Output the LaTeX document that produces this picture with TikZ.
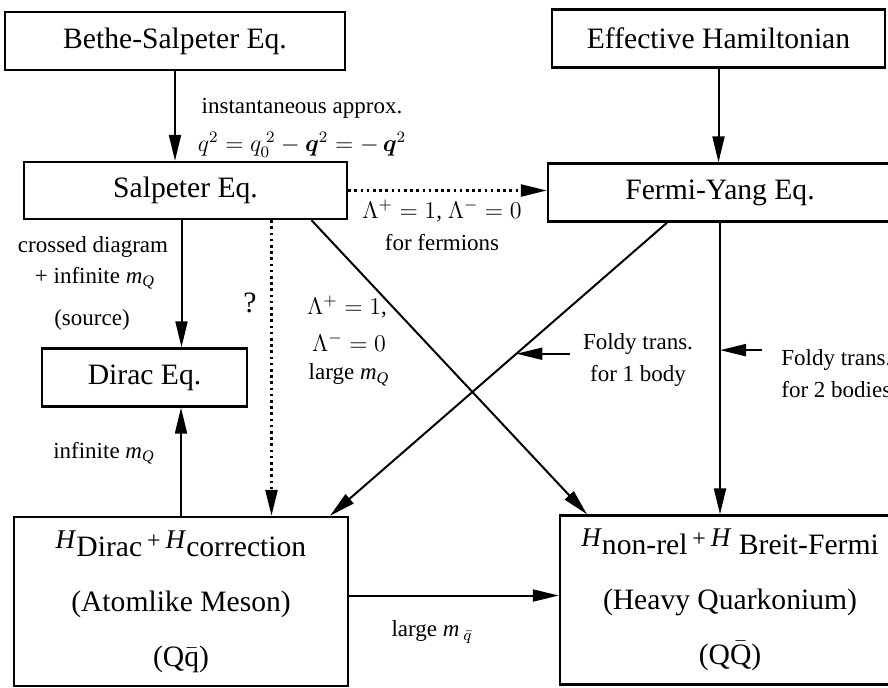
\documentclass[tikz,border=0pt]{standalone}
\usepackage{amsmath}
\usepackage{fontspec}
\setmainfont{Liberation Serif}
\usetikzlibrary{
    arrows.meta,
    positioning,
    calc
}
\newcommand{\boxfont}{\fontsize{14.8}{18}\selectfont}
\newcommand{\bigboxfont}{\fontsize{14.8}{27.5}\selectfont}
\newcommand{\lblfont}{\fontsize{11.5}{16}\selectfont}
\newcommand{\Hsub}[1]{\raisebox{0.6ex}{\fontsize{13.5}{16}\selectfont\textit{H}}#1}
\newcommand{\raiseplus}{\,\raisebox{0.6ex}{\fontsize{12}{14}\selectfont +}\,}
\newcommand{\mQ}{\textit{m}\textsubscript{\textit{Q}}}

\begin{document}
\begin{tikzpicture}[
    x=0.5pt,
    y=-0.5pt,
    eqbox/.style={
        draw,
        line width=1.2pt,
        minimum height=29pt,
        align=center,
        inner sep=0pt,
        font=\boxfont
    },
    bigbox/.style={
        eqbox,
        minimum height=84.5pt,
        font=\bigboxfont
    },
    lbl/.style={
        font=\lblfont,
        align=center,
        inner sep=1pt
    },
    arrow/.style={
        -{Triangle[length=13pt,width=6pt]},
        line width=1pt
    },
    dotarrow/.style={
        arrow,
        line width=1.2pt,
        dash pattern=on 1.3pt off 1.8pt
    }
]
\useasboundingbox (0,0) rectangle (888,687);
\clip (0,0) rectangle (888,687);
%
\node[eqbox, minimum width=170pt] (bse) at (175,41) {Bethe-Salpeter Eq.};
%
\node[eqbox, minimum width=166.5pt] (effham) at (718.5,38.5) {Effective Hamiltonian};
%
\node[eqbox, minimum width=161.5pt, minimum height=28.5pt] (salp) at (185.5,190.5) {Salpeter Eq.};
%
\node[eqbox, minimum width=172pt] (fy) at (720,192.5) {Fermi-Yang Eq.};
%
\node[eqbox, minimum width=102.5pt] (dirac) at (144.5,377.5) {Dirac Eq.};
%
\node[bigbox, minimum width=167pt] (atom) at (181,601.5) {
    \Hsub{Dirac}\raiseplus\Hsub{correction}\\
    (Atomlike Meson)\\
    (Q$\bar{\text{q}}$)
};
%
\node[bigbox, minimum width=170pt] (heavy) at (730,600) {
    \Hsub{non-rel}\raiseplus\raisebox{0.6ex}{\fontsize{13.5}{16}\selectfont\textit{H}}\ Breit-Fermi\\
    (Heavy Quarkonium)\\
    (Q$\bar{\text{Q}}$)
};
%
\draw[arrow] (bse.south) -- (bse.south |- salp.north);
\node[lbl] (instlbl) at (302,108) {instantaneous approx.};
\node[lbl] (qlbl) at (302,145) {$q^2 = q_0^{\;2} - \boldsymbol{q}^2 = -\,\boldsymbol{q}^2$};
%
\draw[arrow] (effham.south) -- (effham.south |- fy.north);
%
\draw[dotarrow] (salp.east) -- (salp.east -| fy.west);
\node[lbl] (lamlbl) at (442,211) {$\Lambda^+ = 1$, $\Lambda^- = 0$};
\node[lbl] (fermlbl) at (442,243) {for fermions};
%
\draw[arrow] ([xshift=-2pt]salp.south) -- ([xshift=-2pt]salp.south |- dirac.north);
\node[lbl] (crosslbl) at (93,247) {crossed diagram};
\node[lbl] (inflbl) at (95,278) {+ infinite \mQ};
\node[lbl] (srclbl) at (92,320) {(source)};
%
\draw[arrow] (atom.north) -- (atom.north |- dirac.south);
\node[lbl] (inf2lbl) at (104,453) {infinite \mQ};
%
\draw[dotarrow] ([xshift=43pt]salp.south) -- ([xshift=43pt]salp.south |- atom.north);
\node[lbl, font=\boxfont] (qmark) at (250,303) {?};
%
\draw[arrow] ([xshift=63pt]salp.south) -- ([xshift=-71.5pt]heavy.north);
\node[lbl] (lamplbl) at (347,307) {$\Lambda^+ = 1$,};
\node[lbl] (lammlbl) at (349,342) {$\Lambda^- = 0$};
\node[lbl] (largelbl) at (349,375) {large \mQ};
%
\draw[arrow] ([xshift=-26.5pt]fy.south) -- coordinate[pos=0.447] (foldyone) ([xshift=74.5pt]atom.north);
\draw[arrow] ([xshift=27pt]foldyone) -- (foldyone);
\node[lbl] (foldylbl) at (638,360) {Foldy trans.\\for 1 body};
%
\draw[arrow] (fy.south) -- coordinate[pos=0.437] (foldytwo) (fy.south |- heavy.north);
\draw[arrow] ([xshift=21pt]foldytwo) -- (foldytwo);
\node[lbl, anchor=west] (foldytwolbl) at (779,374) {Foldy trans.\\for 2 bodies};
%
\draw[arrow] ([yshift=3pt]atom.east) -- ([yshift=3pt]atom.east -| heavy.west);
\node[lbl] (largeqlbl) at (432,632) {large \textit{m}\,\textsubscript{$\bar{q}$}};
%
\end{tikzpicture}
\end{document}
